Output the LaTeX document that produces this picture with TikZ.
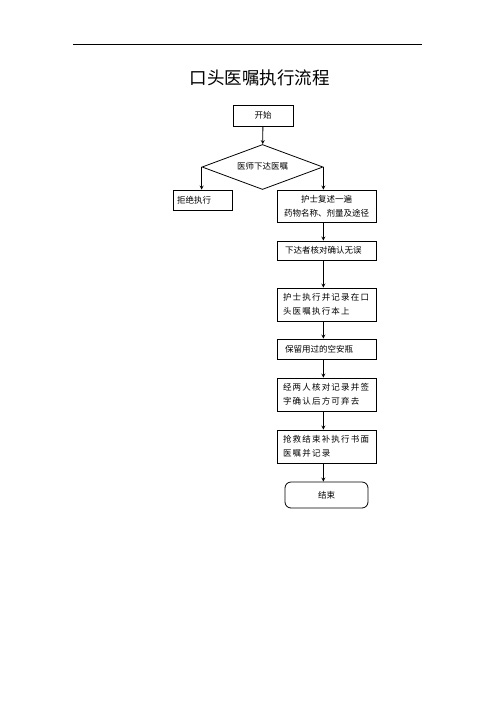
\documentclass[tikz,border=0pt]{standalone}
\usepackage{fontspec}
\setmainfont{Noto Sans CJK SC}
\newfontfamily\widecjk[LetterSpace=14]{Noto Sans CJK SC}
\usetikzlibrary{shapes.geometric,arrows,positioning}
\tikzset{
	flowstyle/.style={
		>=stealth,
		line width=0.8pt,
		x=1pt, y=-1pt}}

\begin{document}
\begin{tikzpicture}[flowstyle,
	stepbox/.style={draw, rectangle, inner sep=0pt, minimum width=99pt, text width=83pt, align=left, font=\fontsize{8.5}{14}\selectfont},
	widebox/.style={stepbox, minimum height=33pt, text width=87pt, font=\widecjk\fontsize{8.5}{14}\selectfont},
	decision/.style={draw, diamond, inner sep=0pt, aspect=2.7, minimum width=121pt, minimum height=45pt, font=\fontsize{8.5}{12}\selectfont},
	]
	\fill[white] (0,0) rectangle (496,702);
	\useasboundingbox (0,0) rectangle (496,702);

	\coordinate (ruleL) at (73,44);
	\coordinate (ruleR) at (422,44);
	\draw (ruleL) -- (ruleR);
	\node[font=\fontsize{17.5}{20}\selectfont] (title) at (259.5,78) {口头医嘱执行流程};

	\node[draw, minimum width=60pt, minimum height=21pt, font=\fontsize{8.5}{12}\selectfont] (start) at (263,115.5) {开始};
	\node[decision] (order) at (262.5,167) {\raisebox{3pt}{医师下达医嘱}};
	\node[stepbox, minimum width=59pt, minimum height=20pt, text width=51pt] (refuse) at (202.5,200) {拒绝执行};
	\node[stepbox, minimum height=32pt, text width=95pt, align=center] (repeat) at (326.5,206) {护士复述一遍\\药物名称、剂量及途径};
	\node[stepbox, minimum height=19pt] (check) at (326.5,250.5) {下达者核对确认无误};
	\node[widebox] (record) at (326.5,304.5) {护士执行并记录在口\\头医嘱执行本上};
	\node[stepbox, minimum height=20pt] (keep) at (326.5,349) {保留用过的空安瓶};
	\node[widebox] (discard) at (326.5,394.5) {经两人核对记录并签\\字确认后方可弃去};
	\node[widebox] (rescue) at (326.5,446.5) {抢救结束补执行书面\\医嘱并记录};
	\node[draw, rounded corners=6pt, minimum width=83pt, minimum height=26pt, font=\fontsize{8.5}{12}\selectfont] (finish) at (326.5,495) {结束};

	\draw[->] (start) -- (order);
	\draw[->] (order.west) -- (order.west |- refuse.north);
	\draw[->] (order.east) -- (order.east |- repeat.north);
	\foreach \a/\b in {repeat/check, check/record, record/keep, keep/discard, discard/rescue, rescue/finish}
		\draw[->] (order.east |- \a.south) -- (order.east |- \b.north);
\end{tikzpicture}
\end{document}
